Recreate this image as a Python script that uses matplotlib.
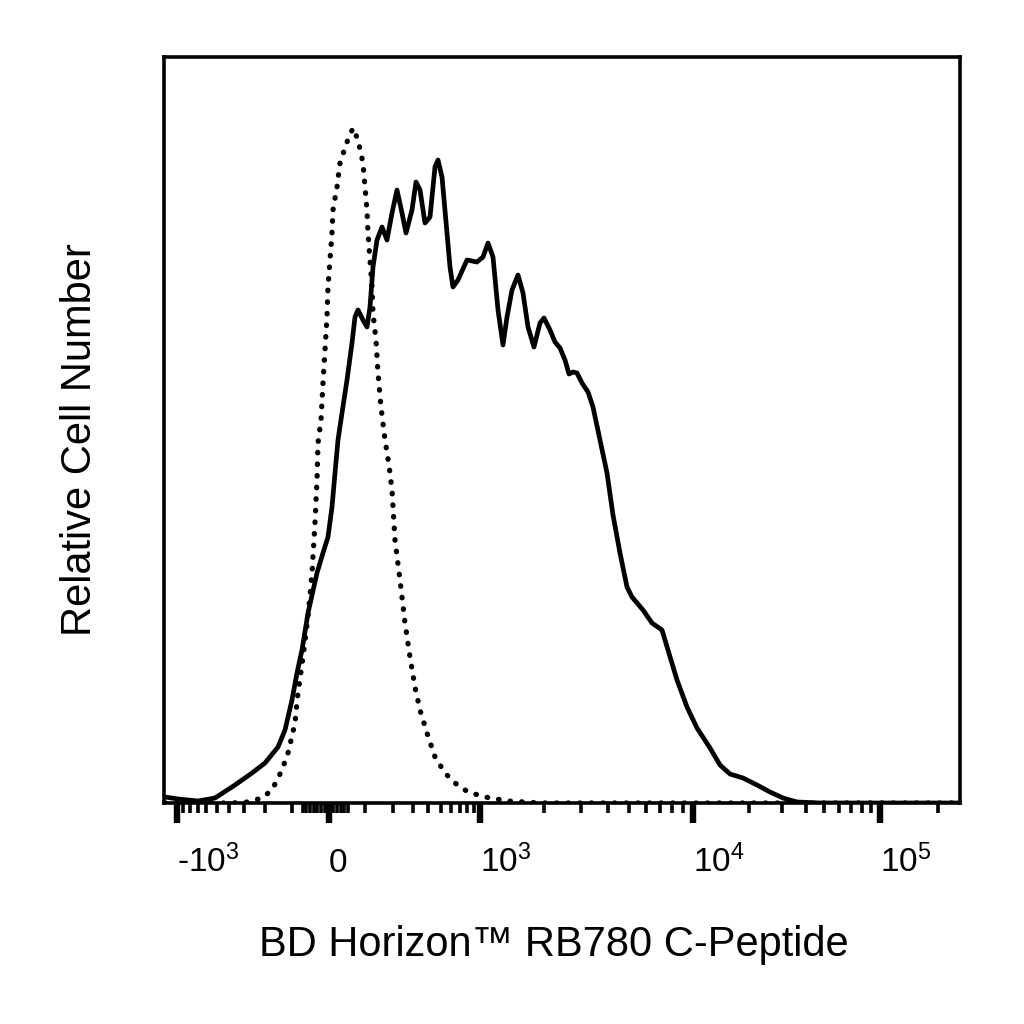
import numpy as np
import matplotlib.pyplot as plt
from matplotlib import transforms

plt.rcParams['font.family'] = ['Liberation Sans', 'DejaVu Sans']
plt.rcParams['mathtext.fontset'] = 'custom'
plt.rcParams['mathtext.rm'] = 'Liberation Sans'

# display channels (0-796 across the plot) and relative counts
iso_ch = [1, 68, 84, 98, 108, 118, 124, 131, 134, 139, 144, 148, 151, 153, 154,
          157, 159, 161, 163, 164, 166, 168, 169, 173, 176, 183, 189, 194, 199,
          201, 203, 204, 206, 208, 209, 212, 214, 217, 221, 225, 228, 231, 236,
          241, 246, 251, 256, 263, 271, 281, 291, 304, 321, 344, 376, 796]
iso_cnt = [0, 0, 1, 5, 13, 33, 50, 80, 110, 146, 186, 230, 280, 323, 360,
           383, 420, 453, 486, 516, 543, 570, 593, 616, 640, 661, 675, 663, 640,
           616, 593, 570, 543, 516, 490, 463, 430, 396, 363, 338, 313, 263, 223,
           180, 146, 116, 93, 70, 46, 30, 20, 11, 6, 2, 0, 0]

cpep_ch = [1, 14, 34, 51, 71, 88, 101, 114, 121, 128, 133, 138, 144, 153, 159,
           164, 168, 171, 174, 178, 183, 188, 191, 194, 199, 203, 206, 209, 213,
           218, 223, 228, 233, 238, 242, 248, 252, 256, 261, 266, 271, 274, 278,
           283, 286, 289, 294, 303, 313, 319, 324, 329, 334, 339, 343, 348, 354,
           359, 364, 370, 376, 380, 386, 391, 396, 401, 405, 409, 413, 418, 424,
           429, 436, 443, 449, 456, 463, 468, 479, 488, 498, 504, 513, 523, 533,
           546, 556, 566, 579, 593, 606, 619, 633, 656, 796]
cpep_cnt = [6, 4, 2, 5, 18, 30, 40, 56, 73, 103, 130, 153, 190, 230, 250,
            266, 296, 330, 363, 390, 423, 460, 486, 493, 483, 476, 496, 536, 563,
            576, 563, 590, 613, 590, 570, 593, 621, 613, 580, 586, 636, 643, 626,
            570, 536, 516, 523, 543, 541, 546, 560, 546, 493, 458, 486, 513, 528,
            510, 476, 456, 480, 485, 473, 461, 455, 443, 429, 431, 430, 420, 411,
            396, 363, 330, 288, 250, 216, 206, 193, 180, 173, 153, 123, 96, 75,
            55, 38, 29, 25, 18, 11, 5, 1, 0, 0]

# biexponential-style axis: fluorescence value -> display channel
major_vals = [-1000, 0, 1000, 1e4, 1e5]
major_labels = ['-$\\mathregular{10^{3}}$', '0', '$\\mathregular{10^{3}}$',
                '$\\mathregular{10^{4}}$', '$\\mathregular{10^{5}}$']
knot_vals = np.array([-1000, 0, 1000, 1e4, 1e5, 262143])
knot_ch = [13, 165, 316, 529, 716, 796]
C = 150.0


def to_channel(v):
    return np.interp(np.arcsinh(np.asarray(v, dtype=float) / C),
                     np.arcsinh(knot_vals / C), knot_ch)


minor_vals = (list(range(-900, -99, 100)) + list(range(-70, 51, 10))
              + list(range(100, 901, 100))
              + [k * 1e3 for k in range(2, 10)] + [k * 1e4 for k in range(2, 10)]
              + [2e5])

fig = plt.figure(figsize=(10.24, 10.24), dpi=100)
ax = fig.add_axes([164 / 1024, 221 / 1024, 796 / 1024, 746 / 1024])

ax.plot(iso_ch, iso_cnt, color='black', lw=3.8, linestyle=(0, (0.1, 2.1)),
        dash_capstyle='round', solid_capstyle='round')
ax.plot(cpep_ch, cpep_cnt, color='black', lw=3.4, solid_joinstyle='round')

ax.set_xlim(0, 796)
ax.set_ylim(0, 746)

ax.set_xticks(to_channel(major_vals))
ax.set_xticks(to_channel(minor_vals), minor=True)
ax.set_xticklabels([])
ax.set_yticks([])
ax.tick_params(axis='x', which='major', direction='out', length=14.4, width=4.6)
ax.tick_params(axis='x', which='minor', direction='out', length=7.5, width=2.6)
for s in ax.spines.values():
    s.set_linewidth(2.6)

# tick labels sit on a common baseline, left-aligned at their tick
trans = transforms.blended_transform_factory(ax.transData, ax.transAxes)
for v, lab in zip(major_vals, major_labels):
    ax.text(to_channel(v), -0.0925, lab, transform=trans, ha='left',
            va='baseline', fontsize=24)

ax.set_xlabel('BD Horizon™ RB780 C-Peptide', fontsize=30)
ax.set_ylabel('Relative Cell Number', fontsize=30)
ax.xaxis.set_label_coords(0.49, -0.1635)
ax.yaxis.set_label_coords(-0.080, 0.4866)

fig.savefig('out.png', dpi=100)
